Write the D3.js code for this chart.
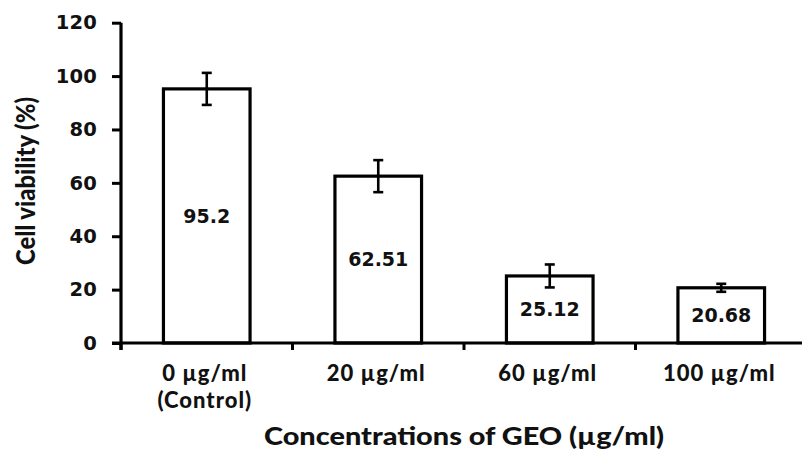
<!DOCTYPE html>
<html><head><meta charset="utf-8">
<script src="https://cdn.jsdelivr.net/npm/d3@7"></script>
<style>body{margin:0;background:#fff}svg{display:block}</style>
</head><body>
<script>
const categories = ["0 µg/ml|(Control)", "20 µg/ml", "60 µg/ml", "100 µg/ml"];
const values = [95.2, 62.51, 25.12, 20.68];
const errors = [6.0, 6.0, 4.3, 1.5];
const valueLabels = ["95.2", "62.51", "25.12", "20.68"];
const yTicks = [0, 20, 40, 60, 80, 100, 120];
const yTitle = "Cell viability (%)";
const xTitle = "Concentrations of GEO (µg/ml)";

const W = 802, H = 450;
const svg = d3.select("body").append("svg").attr("width", W).attr("height", H);

const x = d3.scaleBand().domain(categories).range([121, 807]).paddingInner(0).paddingOuter(0);
const y = d3.scaleLinear().domain([0, 120]).range([343, 22.7]);

const numFont = "'DejaVu Sans', Verdana, sans-serif";
const catFont = "Lato, 'Open Sans', sans-serif";

// bars
const barW = x.bandwidth() * 0.505;
svg.selectAll("rect.bar").data(values).enter().append("rect")
  .attr("x", (d, i) => x(categories[i]) + (x.bandwidth() - barW) / 2)
  .attr("y", d => y(d))
  .attr("width", barW)
  .attr("height", d => y(0) - y(d))
  .attr("fill", "#fff").attr("stroke", "#000").attr("stroke-width", 3.2);

// error bars
const eb = svg.append("g").attr("stroke", "#000").attr("stroke-width", 2.6);
values.forEach((v, i) => {
  const cx = x(categories[i]) + x.bandwidth() / 2;
  eb.append("line").attr("x1", cx).attr("x2", cx).attr("y1", y(v + errors[i])).attr("y2", y(v - errors[i]));
  eb.append("line").attr("x1", cx - 5).attr("x2", cx + 5).attr("y1", y(v + errors[i])).attr("y2", y(v + errors[i]));
  eb.append("line").attr("x1", cx - 5).attr("x2", cx + 5).attr("y1", y(v - errors[i])).attr("y2", y(v - errors[i]));
});

// value labels
svg.selectAll("text.val").data(values).enter().append("text")
  .attr("x", (d, i) => x(categories[i]) + x.bandwidth() / 2)
  .attr("y", d => y(d / 2))
  .attr("dy", "0.36em")
  .attr("text-anchor", "middle")
  .attr("font-family", numFont).attr("font-weight", "bold").attr("font-size", 19)
  .attr("fill", "#111")
  .text((d, i) => valueLabels[i]);

// y axis
const yAxis = d3.axisLeft(y).tickValues(yTicks).tickSize(9).tickPadding(15).tickFormat(d3.format("d"));
const gy = svg.append("g").attr("transform", "translate(121,0)").call(yAxis);
gy.select(".domain").attr("stroke", "#000").attr("stroke-width", 3.2).attr("d", `M0,${y(120)}V${y(0) + 7}`);
gy.selectAll(".tick line").attr("stroke", "#000").attr("stroke-width", 3);
gy.selectAll(".tick text").attr("font-family", numFont).attr("font-weight", "bold").attr("font-size", 19.5)
  .attr("letter-spacing", 0.2).attr("fill", "#111");

// x axis
const gx = svg.append("g").attr("transform", `translate(0,${y(0)})`);
gx.append("line").attr("x1", 112).attr("x2", 807).attr("y1", 0).attr("y2", 0).attr("stroke", "#000").attr("stroke-width", 3.2);
const bounds = categories.map(c => x(c)).concat([x.range()[1]]);
gx.selectAll("line.tk").data(bounds).enter().append("line")
  .attr("x1", d => d).attr("x2", d => d).attr("y1", 0).attr("y2", 7)
  .attr("stroke", "#000").attr("stroke-width", 3);

// category labels
categories.forEach(c => {
  const lines = c.split("|");
  const cx = x(c) + x.bandwidth() / 2 - 2;
  const t = svg.append("text")
    .attr("x", cx)
    .attr("y", 381)
    .attr("text-anchor", "middle")
    .attr("font-family", catFont).attr("font-weight", "900").attr("font-size", 22)
    .attr("letter-spacing", 1)
    .attr("fill", "#111");
  lines.forEach((l, j) => t.append("tspan").attr("x", cx).attr("dy", j ? 27 : 0).text(l));
});

// axis titles
svg.append("text").attr("x", 464).attr("y", 445).attr("text-anchor", "middle")
  .attr("font-family", catFont).attr("font-weight", "900").attr("font-size", 24).attr("fill", "#111")
  .attr("textLength", 400).attr("lengthAdjust", "spacingAndGlyphs")
  .text(xTitle);
svg.append("text").attr("transform", "translate(35,181) rotate(-90)").attr("text-anchor", "middle")
  .attr("font-family", catFont).attr("font-weight", "900").attr("font-size", 27).attr("fill", "#111")
  .attr("textLength", 168).attr("lengthAdjust", "spacingAndGlyphs")
  .text(yTitle);
</script>
</body></html>
